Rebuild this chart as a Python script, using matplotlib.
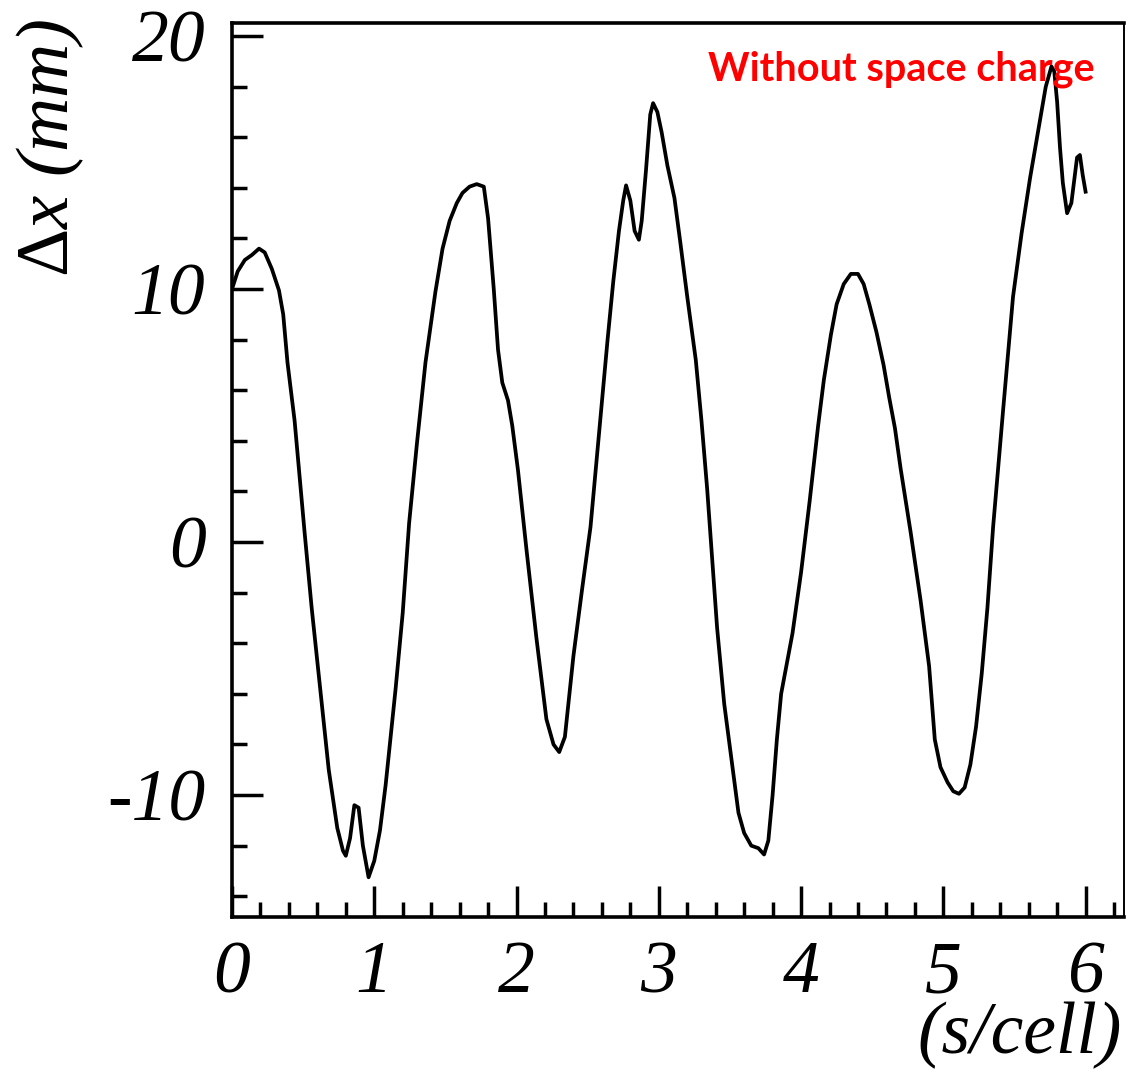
import numpy as np
import matplotlib
matplotlib.use("Agg")
import matplotlib.pyplot as plt
from matplotlib.ticker import MultipleLocator

# beam offset along the line
s_cell = [0.00, 0.04, 0.09, 0.14, 0.19, 0.23, 0.28, 0.33, 0.36, 0.39,
          0.44, 0.51, 0.56, 0.62, 0.68, 0.74, 0.78, 0.80, 0.83, 0.86,
          0.89, 0.92, 0.96, 1.00, 1.04, 1.08, 1.15, 1.20, 1.245, 1.30,
          1.36, 1.43, 1.48, 1.53, 1.58, 1.62, 1.67, 1.72, 1.77, 1.80,
          1.84, 1.87, 1.90, 1.94, 1.97, 2.01, 2.07, 2.14, 2.21, 2.26,
          2.30, 2.34, 2.40, 2.46, 2.52, 2.59, 2.64, 2.68, 2.72, 2.75,
          2.77, 2.80, 2.83, 2.86, 2.88, 2.91, 2.94, 2.96, 2.99, 3.02,
          3.06, 3.11, 3.15, 3.20, 3.26, 3.30, 3.34, 3.41, 3.46, 3.52,
          3.56, 3.60, 3.65, 3.70, 3.74, 3.77, 3.80, 3.83, 3.86, 3.90,
          3.94, 4.00, 4.06, 4.12, 4.16, 4.21, 4.25, 4.30, 4.35, 4.40,
          4.44, 4.48, 4.53, 4.58, 4.62, 4.66, 4.70, 4.77, 4.84, 4.90,
          4.94, 4.98, 5.03, 5.07, 5.11, 5.15, 5.19, 5.23, 5.27, 5.31,
          5.35, 5.42, 5.49, 5.55, 5.61, 5.68, 5.72, 5.76, 5.78, 5.80,
          5.82, 5.84, 5.87, 5.90, 5.94, 5.96, 5.98, 6.00]
dx_mm = [10.0, 10.7, 11.15, 11.35, 11.6, 11.45, 10.8, 9.95, 9.0, 7.1,
         4.8, 0.4, -2.6, -5.8, -9.0, -11.3, -12.2, -12.4, -11.7, -10.4,
         -10.5, -12.0, -13.25, -12.6, -11.4, -9.6, -5.8, -2.8, 0.75, 3.9,
         7.1, 9.9, 11.6, 12.7, 13.4, 13.8, 14.05, 14.15, 14.05, 12.8,
         10.0, 7.6, 6.3, 5.6, 4.6, 2.85, -0.3, -3.8, -7.0, -8.0,
         -8.3, -7.7, -4.5, -1.9, 0.6, 4.9, 8.0, 10.3, 12.3, 13.5,
         14.1, 13.5, 12.3, 11.95, 12.7, 14.7, 16.9, 17.35, 17.0, 16.2,
         14.9, 13.6, 11.9, 9.7, 7.2, 4.8, 2.1, -3.4, -6.4, -9.0,
         -10.7, -11.5, -12.0, -12.1, -12.35, -11.8, -10.0, -7.8, -6.0, -4.8,
         -3.6, -1.2, 1.6, 4.6, 6.4, 8.2, 9.4, 10.2, 10.6, 10.6,
         10.2, 9.4, 8.3, 7.0, 5.7, 4.5, 2.9, 0.4, -2.3, -4.9,
         -7.8, -8.9, -9.5, -9.85, -9.95, -9.7, -8.8, -7.3, -5.2, -2.6,
         0.6, 5.2, 9.7, 12.2, 14.4, 16.7, 18.0, 18.8, 18.6, 17.4,
         15.6, 14.2, 13.0, 13.4, 15.2, 15.3, 14.5, 13.85]

x_range = (0, 6.27)
y_range = (-14.82, 20.53)

plt.rcParams["axes.unicode_minus"] = False
plt.rcParams["mathtext.fontset"] = "custom"
plt.rcParams["mathtext.rm"] = "Liberation Serif"
plt.rcParams["mathtext.it"] = "Liberation Serif:italic"

fig = plt.figure(figsize=(11.26, 10.70), dpi=100)
ax = fig.add_axes([232 / 1126, 1 - 917 / 1070, 892 / 1126, (917 - 22.7) / 1070])

ax.plot(s_cell, dx_mm, color="black", lw=2.7, solid_joinstyle="round")

ax.set_xlim(*x_range)
ax.set_ylim(*y_range)

ax.xaxis.set_major_locator(MultipleLocator(1))
ax.xaxis.set_minor_locator(MultipleLocator(0.2))
ax.yaxis.set_major_locator(MultipleLocator(10))
ax.yaxis.set_minor_locator(MultipleLocator(2))

ax.tick_params(which="both", direction="in", width=2.5, top=False, right=False)
ax.tick_params(which="major", length=22)
ax.tick_params(which="minor", length=11)
ax.tick_params(axis="x", which="major", pad=17)
ax.tick_params(axis="y", which="major", pad=19)

for lab in ax.get_xticklabels() + ax.get_yticklabels():
    lab.set_fontfamily("Liberation Serif")
    lab.set_fontstyle("italic")
    lab.set_fontsize(53)

for side in ["left", "bottom", "top"]:
    ax.spines[side].set_linewidth(2.6)
ax.spines["right"].set_linewidth(1.4)

# axis titles, ROOT style (placed at the ends)
fig.text(50 / 1126, 1 - 19 / 1070, r"$\Delta$x (mm)", rotation=90,
         ha="center", va="top", fontsize=54,
         fontfamily="Liberation Serif", fontstyle="italic")
fig.text(1122 / 1126, 1 - 1053 / 1070, "(s/cell)", ha="right", va="baseline",
         fontsize=53, fontfamily="Liberation Serif", fontstyle="italic")

fig.text(1095 / 1126, 1 - 80 / 1070, "Without space charge", ha="right",
         va="baseline", color="red", fontsize=28.5, fontweight="bold",
         fontfamily="Lato")

fig.savefig("out.png", dpi=100)
